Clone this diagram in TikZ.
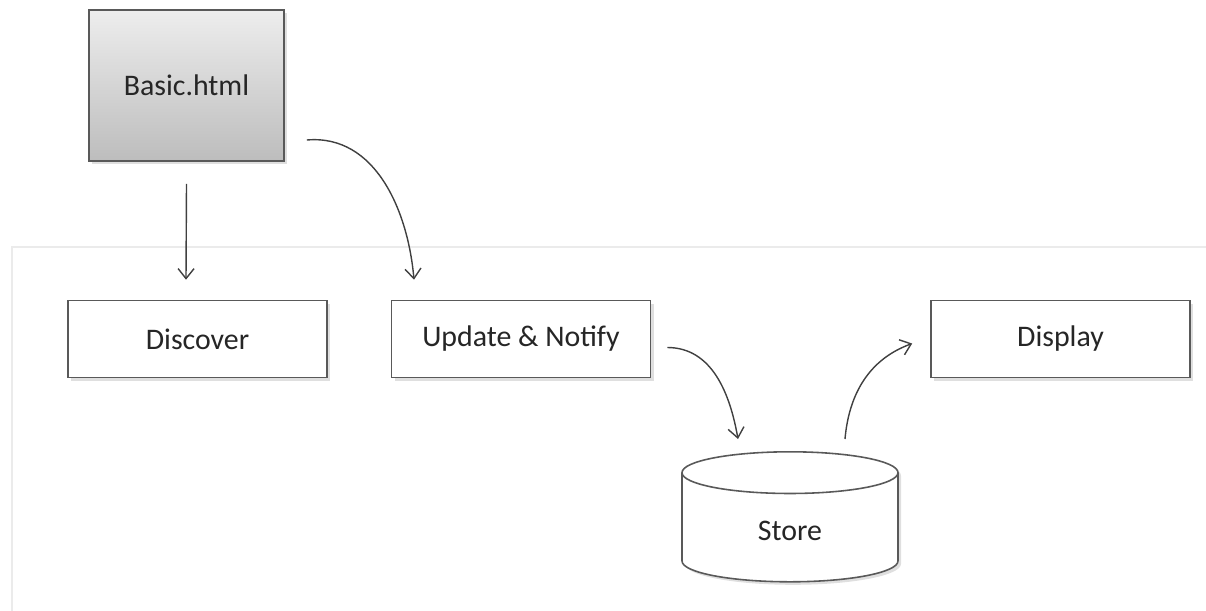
\documentclass[tikz,border=0pt]{standalone}
\usepackage{fontspec}
\setmainfont{Carlito}
\usetikzlibrary{shapes.geometric,shadows,arrows.meta}

\begin{document}
\begin{tikzpicture}[x=0.2mm, y=-0.2mm,
    font=\fontsize{17}{20}\selectfont,
    box/.style={draw=black!65, line width=0.9pt, fill=white, text=black!85,
      minimum width=51.8mm, minimum height=15.4mm,
      drop shadow={opacity=0.25, shadow xshift=0.6mm, shadow yshift=-0.6mm}},
    flow/.style={-{Straight Barb[length=2mm, width=3.2mm]}, black!75, line width=0.8pt}]
    \useasboundingbox (0, 0) rectangle (1206, 611);

    % panel edge
    \draw [black!8, line width=1.2pt] (12, 611) -- (12, 247) -- (1206, 247);

    \node [box, top color=black!7, bottom color=black!26, minimum width=39mm, minimum height=30.2mm] (basic) at (186.5, 85.5) {Basic.html};
    \node [box] (discover) at (197.5, 339) {Discover};
    \node [box] (update) at (521, 339) {Update \& Notify};
    \node [box] (display) at (1060.5, 339) {Display};
    \node [draw=black!65, line width=0.9pt, fill=white, text=black!85, shape=cylinder, shape border rotate=90,
      aspect=0.55, minimum width=43.2mm, minimum height=26mm,
      drop shadow={opacity=0.25, shadow xshift=0.6mm, shadow yshift=-0.6mm}] (store) at (790, 531) {Store};

    \draw [flow] ([yshift=-4.4mm]basic.south) -- ([xshift=-2.3mm, yshift=4mm]discover.north);
    \draw [flow] ([xshift=4.4mm, yshift=-10.9mm]basic.east) to [out=5, in=95] ([xshift=-21.4mm, yshift=4mm]update.north);
    \draw [flow] ([xshift=3.2mm, yshift=-1.7mm]update.east) to [out=0, in=100] ([xshift=-10.4mm, yshift=2.4mm]store.north);
    \draw [flow] ([xshift=11mm, yshift=2.4mm]store.north) to [out=85, in=200] ([xshift=-3.6mm, yshift=-0.9mm]display.west);
\end{tikzpicture}
\end{document}
